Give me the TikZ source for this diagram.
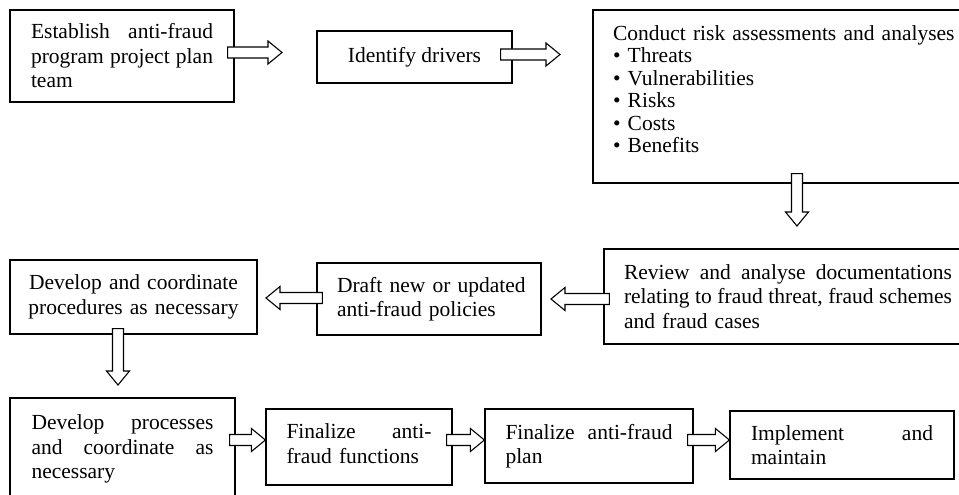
\documentclass[tikz,border=0pt]{standalone}
\usepackage{fontspec}
\setmainfont{Liberation Serif}
\usetikzlibrary{calc}
\tikzset{
  box/.style={draw, line width=1.2pt, rectangle, inner sep=0pt,
    font=\fontsize{21.5}{24.5}\selectfont},
  barr/.style={draw, line width=1.1pt, fill=white, line join=miter},
}
% horizontal block arrow: #1 tail, #2 tip, #3 direction (+1 right, -1 left)
\newcommand\harr[3]{%
  \draw[barr] ($(#1)+(0,5.5)$) -- ($(#2)+({-14*(#3)},5.5)$) -- ($(#2)+({-14*(#3)},11.5)$)
    -- (#2) -- ($(#2)+({-14*(#3)},-11.5)$) -- ($(#2)+({-14*(#3)},-5.5)$)
    -- ($(#1)+(0,-5.5)$) -- cycle;}
% downward block arrow: #1 tail, #2 tip
\newcommand\varr[2]{%
  \draw[barr] ($(#1)+(5.5,0)$) -- ($(#2)+(5.5,-14)$) -- ($(#2)+(11.5,-14)$)
    -- (#2) -- ($(#2)+(-11.5,-14)$) -- ($(#2)+(-5.5,-14)$)
    -- ($(#1)+(-5.5,0)$) -- cycle;}
\begin{document}
\begin{tikzpicture}[x=1pt,y=-1pt]
\useasboundingbox (0,0) rectangle (959,495);
\clip (0,0) rectangle (959,495);
\fill[white] (0,0) rectangle (959,495);

% boxes
\node[box, minimum width=224pt, minimum height=92pt, text width=182pt, align=left] (b1) at (122,56)
  {Establish\hfill anti-fraud\\program\hfill project\hfill plan\\team};
\node[box, minimum width=195pt, minimum height=52pt] (b2) at (414.5,57) {Identify drivers};
\node[box, minimum width=385pt, minimum height=173pt, text width=345pt, align=left,
  font=\fontsize{21.5}{22.5}\selectfont] (b3) at (785.5,96.5)
  {Conduct risk assessments and analyses\\• Threats\\• Vulnerabilities\\• Risks\\• Costs\\• Benefits\rule[-15pt]{0pt}{1pt}};
\node[box, minimum width=368pt, minimum height=95pt, text width=328pt, align=left] (b4) at (788,296.5)
  {Review\hfill and\hfill analyse\hfill documentations\\relating\hfill to\hfill fraud\hfill threat,\hfill fraud\hfill schemes\\and fraud cases};
\node[box, minimum width=224pt, minimum height=72pt, text width=184pt, align=left] (b5) at (429,299)
  {\mbox{Draft new or updated}\\\mbox{anti-fraud policies}};
\node[box, minimum width=247pt, minimum height=74pt, text width=220pt, align=center] (b6) at (133.5,297)
  {Develop and coordinate\\procedures as necessary};
\node[box, minimum width=225pt, minimum height=102pt, text width=182pt, align=left] (b7) at (122.5,449)
  {Develop\hfill processes\\and\hfill coordinate\hfill as\\necessary};
\node[box, minimum width=186pt, minimum height=76pt, text width=145pt, align=left] (b8) at (359,447)
  {Finalize\hfill anti-\\fraud functions\rule[-7pt]{0pt}{1pt}};
\node[box, minimum width=208pt, minimum height=74pt, text width=167pt, align=left] (b9) at (589,446)
  {Finalize\hfill anti-fraud\\plan};
\node[box, minimum width=224pt, minimum height=68pt, text width=182pt, align=left] (b10) at (842,445)
  {Implement\hfill and\\maintain};

% arrow ends
\coordinate (s1) at ($(b1.east)+(-7,-3.5)$);   \coordinate (e1) at (282,52.5);
\coordinate (s2) at ($(b2.east)+(-12,-2.5)$);  \coordinate (e2) at (560,54.5);
\coordinate (s3) at ($(b3.south)+(11.5,-10)$); \coordinate (e3) at (797,226);
\coordinate (s4) at ($(b4.west)+(6,2.5)$);     \coordinate (e4) at (551,299);
\coordinate (s5) at ($(b5.west)+(6,-1)$);      \coordinate (e5) at (266,298);
\coordinate (s6) at ($(b6.south)+(-15.5,-6)$); \coordinate (e6) at (118,385);
\coordinate (s7) at ($(b7.east)+(-6,-9)$);     \coordinate (e7) at ($(b8.west)+(0,-7)$);
\coordinate (s8) at ($(b8.east)+(-6,-7)$);     \coordinate (e8) at ($(b9.west)+(0,-6)$);
\coordinate (s9) at ($(b9.east)+(-6,-6)$);     \coordinate (e9) at ($(b10.west)+(0,-5)$);

% arrows
\harr{s1}{e1}{1}
\harr{s2}{e2}{1}
\varr{s3}{e3}
\harr{s4}{e4}{-1}
\harr{s5}{e5}{-1}
\varr{s6}{e6}
\harr{s7}{e7}{1}
\harr{s8}{e8}{1}
\harr{s9}{e9}{1}
\end{tikzpicture}
\end{document}
